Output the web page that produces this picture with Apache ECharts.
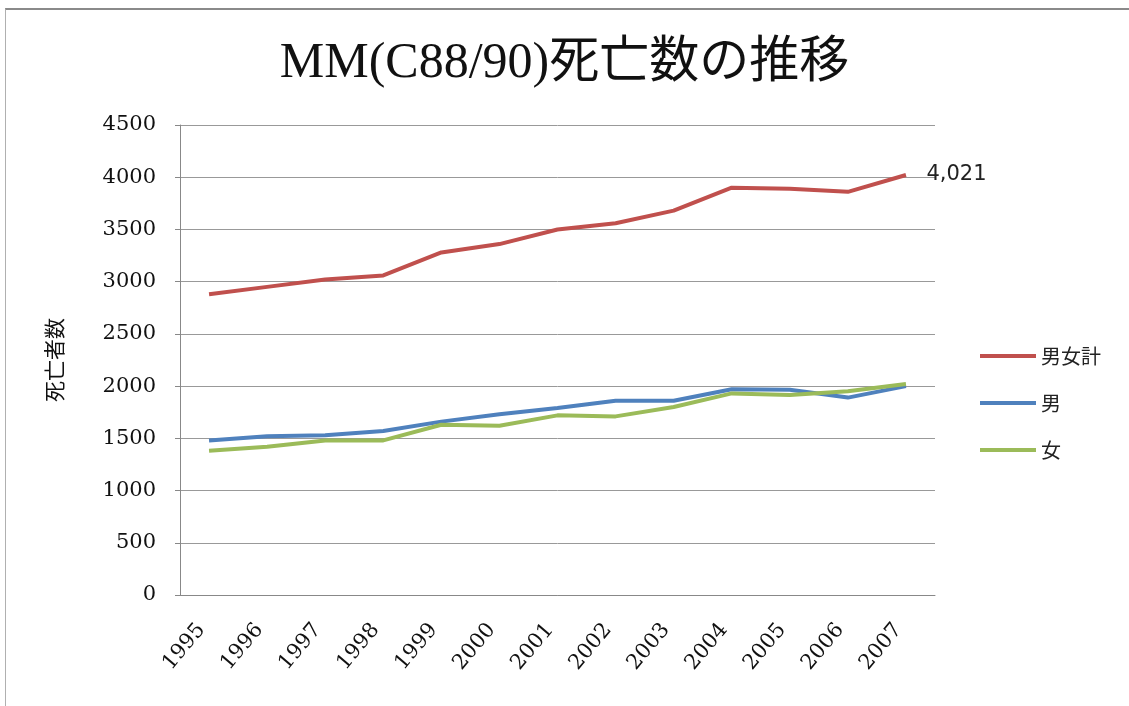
<!DOCTYPE html>
<html>
<head>
<meta charset="utf-8">
<script src="https://cdn.jsdelivr.net/npm/echarts@6/dist/echarts.min.js"></script>
<style>
  html, body { margin: 0; padding: 0; background: #fff; }
  #frame { position: absolute; left: 5px; top: 8px; width: 1124px; height: 698px;
           border-top: 2px solid #8a8a8a; border-left: 1px solid #b0b0b0; }
  #chart { position: absolute; left: 0; top: 0; width: 1129px; height: 706px; }
</style>
</head>
<body>
<div id="frame"></div>
<div id="chart"></div>
<script>
const years = ['1995','1996','1997','1998','1999','2000','2001','2002','2003','2004','2005','2006','2007'];
const total = [2880, 2950, 3020, 3060, 3280, 3360, 3500, 3560, 3680, 3900, 3890, 3860, 4021];
const male = [1480, 1520, 1530, 1570, 1660, 1730, 1790, 1860, 1860, 1970, 1965, 1890, 2000];
const female = [1380, 1420, 1480, 1480, 1630, 1620, 1720, 1710, 1800, 1930, 1915, 1950, 2021];
const seriesNames = ['男女計', '男', '女'];
const seriesColors = ['#C0504D', '#4F81BD', '#9BBB59'];

window.addEventListener("load", () => {
  let chart = echarts.init(document.getElementById("chart"), null, { renderer: 'canvas' });

  // only the last point of the total line gets a label
  const totalData = total.map((v, i) => i === total.length - 1
    ? { value: v, label: { show: true, position: 'right', distance: 20,
        formatter: (p) => p.value.toLocaleString('en-US'),
        fontFamily: 'DejaVu Sans', fontSize: 21, color: '#222' } }
    : v);

  let option = {
    backgroundColor: 'transparent',
    animation: false,
    title: {
      text: 'MM(C88/90)死亡数の推移',
      left: 'center',
      top: 34,
      textStyle: { fontFamily: 'Liberation Serif, Noto Sans CJK JP', fontWeight: 'normal', fontSize: 50, color: '#111' }
    },
    legend: {
      orient: 'vertical',
      left: 975,
      top: 341,
      itemGap: 27,
      itemWidth: 56,
      itemHeight: 14,
      icon: 'path://M0,6 L56,6 L56,10 L0,10 Z',
      textStyle: { fontFamily: 'Noto Sans CJK JP', fontSize: 20, color: '#222' },
      data: seriesNames.map((n, i) => ({ name: n, itemStyle: { color: seriesColors[i] } }))
    },
    grid: { left: 180, right: 194, top: 125, bottom: 111 },
    xAxis: {
      type: 'category',
      data: years,
      boundaryGap: true,
      axisLine: { lineStyle: { color: '#888', width: 1 } },
      axisTick: { show: false },
      axisLabel: { rotate: 50, margin: 22, padding: [0, 12, 0, 0], fontFamily: 'DejaVu Serif', fontSize: 21, color: '#111' }
    },
    yAxis: {
      type: 'value',
      min: 0, max: 4500, interval: 500,
      name: '死亡者数',
      nameLocation: 'middle',
      nameRotate: 90,
      nameGap: 115,
      nameTextStyle: { fontFamily: 'Noto Sans CJK JP', fontSize: 21, color: '#111' },
      axisLine: { show: true, lineStyle: { color: '#888', width: 1 } },
      axisTick: { show: true, length: 5, lineStyle: { color: '#888' } },
      splitLine: { lineStyle: { color: '#999', width: 1 } },
      axisLabel: { margin: 24, fontFamily: 'DejaVu Serif', fontSize: 21, color: '#111',
        formatter: (v) => String(v) }
    },
    series: [
      { name: seriesNames[0], type: 'line', data: totalData, symbol: 'circle', symbolSize: 1, showSymbol: true,
        itemStyle: { color: 'rgba(0,0,0,0)' }, lineStyle: { width: 4, color: seriesColors[0] } },
      { name: seriesNames[1], type: 'line', data: male, symbol: 'none', color: seriesColors[1], lineStyle: { width: 4 } },
      { name: seriesNames[2], type: 'line', data: female, symbol: 'none', color: seriesColors[2], lineStyle: { width: 4 } }
    ]
  };

  chart.setOption(option);
});
</script>
</body>
</html>
